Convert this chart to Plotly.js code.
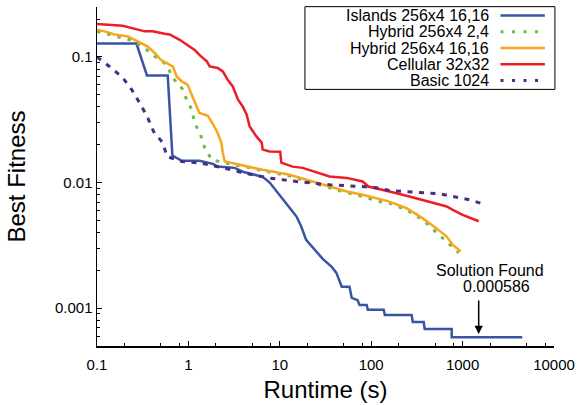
<!DOCTYPE html>
<html>
<head>
<meta charset="utf-8">
<script src="https://cdn.plot.ly/plotly-3.0.1.min.js"></script>
<style>html,body{margin:0;padding:0;background:#fff;}#chart{width:581px;height:405px;}</style>
</head>
<body>
<div id="chart"></div>
<script>
// ---- data ----
const seriesNames = ["Islands 256x4 16,16", "Hybrid 256x4 2,4", "Hybrid 256x4 16,16", "Cellular 32x32", "Basic 1024"];

const islandsX = [0.1, 0.27, 0.352, 0.594, 0.668, 0.845, 1.32, 1.85, 2.09, 3.21, 3.93, 6.5, 7.75, 9.97, 12.8, 15.3, 17.2, 19.4, 24.1, 29.5, 37.0, 41.6, 47.6, 57.9, 61.2, 71, 74.5, 89.3, 91.8, 137, 141, 277, 285, 375, 385, 760, 760, 4500];
const islandsY = [0.128, 0.128, 0.0713, 0.0713, 0.0164, 0.0149, 0.0149, 0.0141, 0.0134, 0.0131, 0.0122, 0.0111, 0.0100, 0.0080, 0.0063, 0.00534, 0.00445, 0.0035, 0.00292, 0.00247, 0.00213, 0.00191, 0.00148, 0.00148, 0.00121, 0.00116, 0.00106, 0.00106, 0.00097, 0.00097, 0.000884, 0.000884, 0.000776, 0.000776, 0.000683, 0.000683, 0.000586, 0.000586];

const hybrid24X = [0.1, 0.156, 0.228, 0.316, 0.407, 0.579, 0.673, 0.845, 0.958, 1.09, 1.17, 1.36, 1.51, 1.80, 2.20, 3.05, 4.34, 6.5, 12.8, 22.9, 35, 54, 80.7, 123, 158, 244, 366, 558, 760, 906];
const hybrid24Y = [0.160, 0.148, 0.137, 0.121, 0.104, 0.0868, 0.0681, 0.0567, 0.0457, 0.0380, 0.0298, 0.0240, 0.0189, 0.0152, 0.01466, 0.01387, 0.0133, 0.01242, 0.01132, 0.0100, 0.00904, 0.0083, 0.00776, 0.00706, 0.00687, 0.00607, 0.00505, 0.00384, 0.0031, 0.00276];

const hybrid16X = [0.1, 0.121, 0.156, 0.217, 0.279, 0.359, 0.428, 0.498, 0.673, 0.745, 0.845, 0.98, 1.11, 1.26, 1.32, 1.63, 1.85, 2.09, 2.30, 2.38, 2.50, 2.98, 4.34, 6.5, 12.8, 22.9, 35, 54, 80.7, 123, 158, 244, 366, 520, 670, 780, 953];
const hybrid16Y = [0.165, 0.160, 0.151, 0.146, 0.133, 0.121, 0.1076, 0.0951, 0.0841, 0.0700, 0.0639, 0.0601, 0.0483, 0.0395, 0.0358, 0.0340, 0.0294, 0.0248, 0.0206, 0.0172, 0.01473, 0.0143, 0.01343, 0.01264, 0.01153, 0.0102, 0.0093, 0.0085, 0.0080, 0.00738, 0.00706, 0.00625, 0.00519, 0.00432, 0.00372, 0.00319, 0.00284];

const cellularX = [0.1, 0.191, 0.333, 0.406, 0.55, 0.624, 0.803, 0.983, 1.17, 1.32, 1.59, 1.71, 2.09, 2.38, 2.69, 3.06, 3.49, 3.93, 4.34, 4.68, 5.05, 5.57, 6.34, 6.5, 7.75, 10.1, 10.4, 13.8, 17.8, 25.3, 35, 54, 80.7, 93, 123, 158, 262, 434, 670, 780, 1000, 1500];
const cellularY = [0.183, 0.177, 0.160, 0.160, 0.153, 0.151, 0.137, 0.125, 0.114, 0.104, 0.0922, 0.0841, 0.0817, 0.0767, 0.0659, 0.0583, 0.0457, 0.0404, 0.0347, 0.0280, 0.0255, 0.0232, 0.0208, 0.0183, 0.0177, 0.0176, 0.0144, 0.0134, 0.0131, 0.0120, 0.0112, 0.0109, 0.0102, 0.0093, 0.00893, 0.0085, 0.00775, 0.00706, 0.00645, 0.00607, 0.00553, 0.00492];

const basicX = [0.1, 0.138, 0.191, 0.240, 0.293, 0.354, 0.417, 0.523, 0.586, 0.845, 1.36, 2.09, 2.98, 3.83, 7.75, 15.3, 35, 80.7, 123, 158, 244, 366, 558, 780, 1200, 1660];
const basicY = [0.1, 0.0837, 0.0684, 0.0549, 0.0430, 0.0336, 0.0254, 0.0208, 0.0161, 0.01473, 0.0143, 0.01343, 0.01264, 0.0120, 0.01086, 0.0102, 0.0096, 0.0093, 0.00904, 0.00865, 0.0085, 0.00834, 0.00814, 0.00775, 0.00729, 0.00677];

const xTickVals = [0.1, 1, 10, 100, 1000, 10000];
const xTickText = ["0.1", "1", "10", "100", "1000", "10000"];
const yTickVals = [0.001, 0.01, 0.1];
const yTickText = ["0.001", "0.01", "0.1"];

const solutionTime = 1500;
const solutionValue = 0.000586;
const solutionLabel = "Solution Found";
const solutionValueText = "0.000586";

// ---- styles ----
const FONT = "Liberation Sans, Arial, Helvetica, sans-serif";
const colors = ["#3a54a4", "#6cbd45", "#f9a51d", "#ee1d25", "#4a2c86"];
const dashes = ["solid", "3.5px,7px", "solid", "solid", "5px,6.5px"];
const legendDashes = ["solid", "3px,8.5px", "solid", "solid", "3px,8.5px"];
const widths = [2.5, 3, 2.5, 2.5, 3];
const xs = [islandsX, hybrid24X, hybrid16X, cellularX, basicX];
const ys = [islandsY, hybrid24Y, hybrid16Y, cellularY, basicY];

const traces = seriesNames.map((n, i) => ({
  type: "scatter", mode: "lines", name: n, x: xs[i], y: ys[i],
  line: {color: colors[i], width: widths[i], dash: dashes[i]},
  showlegend: false, hoverinfo: "skip"
}));

// minor ticks
const xMinor = [];
[0.1, 1, 10, 100, 1000].forEach(d => [2, 5, 8].forEach(m => xMinor.push(d * m)));
const yMinor = [];
[0.0001, 0.001, 0.01, 0.1].forEach(d => { for (let m = 2; m <= 9; m++) yMinor.push(d * m); });

// legend built from shapes + annotations
const legY = [0.975, 0.927, 0.879, 0.831, 0.783];
const shapes = [{type: "rect", xref: "paper", yref: "paper", x0: 0.455, x1: 1.002, y0: 0.757, y1: 1.001,
  line: {color: "#000", width: 1}, fillcolor: "rgba(255,255,255,1)", layer: "above"}];
const annotations = [];
seriesNames.forEach((n, i) => {
  shapes.push({type: "line", xref: "paper", yref: "paper", x0: 0.883, x1: 0.980, y0: legY[i], y1: legY[i],
    line: {color: colors[i], width: widths[i], dash: legendDashes[i]}, layer: "above"});
  annotations.push({xref: "paper", yref: "paper", x: 0.8615, y: legY[i], xanchor: "right", yanchor: "middle",
    text: n, showarrow: false, font: {family: FONT, size: 16, color: "#000"}});
});
annotations.push({xref: "paper", yref: "paper", x: 0.861, y: 0.222, xanchor: "center", yanchor: "middle",
  text: solutionLabel, showarrow: false, font: {family: FONT, size: 16, color: "#000"}});
annotations.push({xref: "paper", yref: "paper", x: 0.875, y: 0.175, xanchor: "center", yanchor: "middle",
  text: solutionValueText, showarrow: false, font: {family: FONT, size: 16, color: "#000"}});
annotations.push({xref: "x", yref: "y", x: Math.log10(solutionTime), y: Math.log10(solutionValue * 1.065),
  text: "", showarrow: true, arrowhead: 2, arrowsize: 1.1, arrowwidth: 1.5, arrowcolor: "#000",
  axref: "pixel", ayref: "pixel", ax: 0, ay: -35, standoff: 0});

const layout = {
  width: 581, height: 405,
  margin: {l: 97, r: 27, t: 7, b: 59, pad: 0},
  paper_bgcolor: "#fff", plot_bgcolor: "#fff",
  font: {family: FONT, color: "#000"},
  showlegend: false,
  xaxis: {
    type: "log", range: [-1, 4], autorange: false,
    tickmode: "array", tickvals: xTickVals, ticktext: xTickText,
    ticks: "inside", ticklen: 5, tickwidth: 1, tickcolor: "#000",
    minor: {tickmode: "array", tickvals: xMinor, ticks: "inside", ticklen: 3, tickwidth: 1, tickcolor: "#000", showgrid: false},
    showline: true, linecolor: "#000", linewidth: 1.5, mirror: false,
    showgrid: false, zeroline: false,
    tickfont: {family: FONT, size: 15, color: "#000"},
    ticklabelstandoff: 4,
    title: {text: "Runtime (s)", font: {family: FONT, size: 24, color: "#000"}, standoff: 9},
    automargin: false
  },
  yaxis: {
    type: "log", range: [Math.log10(0.0005), Math.log10(0.25)], autorange: false,
    tickmode: "array", tickvals: yTickVals, ticktext: yTickText,
    ticks: "inside", ticklen: 5, tickwidth: 1, tickcolor: "#000",
    minor: {tickmode: "array", tickvals: yMinor, ticks: "inside", ticklen: 3, tickwidth: 1, tickcolor: "#000", showgrid: false},
    showline: true, linecolor: "#000", linewidth: 1.5, mirror: false,
    showgrid: false, zeroline: false,
    tickfont: {family: FONT, size: 15, color: "#000"},
    title: {text: "Best Fitness", font: {family: FONT, size: 24, color: "#000"}, standoff: 22},
    automargin: false
  },
  shapes: shapes,
  annotations: annotations
};

Plotly.newPlot("chart", traces, layout, {staticPlot: true, displayModeBar: false});
</script>
</body>
</html>
